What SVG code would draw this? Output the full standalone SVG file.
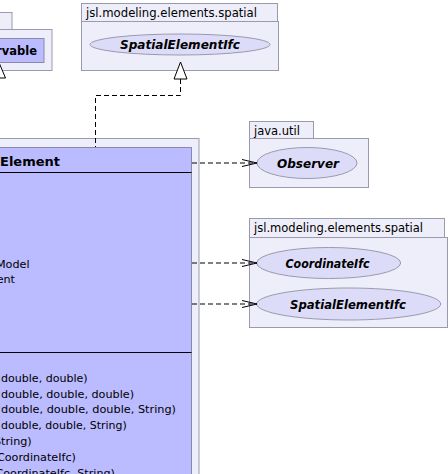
<svg xmlns="http://www.w3.org/2000/svg" width="448" height="474" viewBox="0 0 448 474">
<style>
.pkg{fill:#eeeefa;stroke:#9a9aae;stroke-width:1}
.cls{fill:#bbbbff;stroke:#8a8aa8;stroke-width:1}
.ell{fill:#dcdcf8;stroke:#9a9aae;stroke-width:1}
.sep{stroke:#000;stroke-width:1}
.lbl{font-family:"DejaVu Sans",sans-serif;font-size:11.5px;fill:#000}
.txt{font-family:"DejaVu Sans",sans-serif;font-size:11.2px;fill:#000}
.ttl{font-family:"DejaVu Sans",sans-serif;font-size:13px;font-weight:bold;fill:#000}
.ifc{font-family:"DejaVu Sans",sans-serif;font-size:12px;font-weight:bold;font-style:italic;fill:#000;text-anchor:middle}
.dep{fill:none;stroke:#000;stroke-width:1;stroke-dasharray:5,3}
.tri{fill:#fff;stroke:#000;stroke-width:1}
</style>
<defs>
<marker id="open" markerUnits="userSpaceOnUse" markerWidth="17" markerHeight="8" refX="15" refY="3.5" orient="auto" overflow="visible">
<path d="M0,0 L15,3.5 L0,7" fill="none" stroke="#000" stroke-width="1"/>
</marker>
</defs>

<g id="pkg-observable">
<rect class="pkg" x="-20" y="12.5" width="32" height="17"/>
<rect class="pkg" x="-100" y="29.5" width="152" height="41"/>
<rect class="cls" x="-60" y="38.5" width="104" height="24"/>
<text class="ttl" x="37" y="55" text-anchor="end" style="font-size:11.5px">rvable</text>
</g>

<g id="pkg-spatial-top">
<rect class="pkg" x="81.5" y="3.5" width="196" height="18"/>
<rect class="pkg" x="81.5" y="21.5" width="197" height="49"/>
<text class="lbl" x="86" y="16.5" textLength="171" lengthAdjust="spacingAndGlyphs">jsl.modeling.elements.spatial</text>
<g id="SpatialElementIfc-top">
<ellipse class="ell" cx="180" cy="44.5" rx="90" ry="10.5"/>
<text class="ifc" x="180" y="49" textLength="120" lengthAdjust="spacingAndGlyphs">SpatialElementIfc</text>
</g>
</g>

<g id="pkg-main">
<rect class="pkg" x="-100" y="138.5" width="299" height="400"/>
<g id="Element">
<rect class="cls" x="-108" y="147.5" width="299.5" height="400"/>
<line class="sep" x1="-108" y1="172.5" x2="191.5" y2="172.5"/>
<line class="sep" x1="-108" y1="352.5" x2="191.5" y2="352.5"/>
<text class="ttl" x="60" y="166" text-anchor="end">Element</text>
<text class="txt" x="29.5" y="267.5" text-anchor="end">Model</text>
<text class="txt" x="15" y="283" text-anchor="end">ent</text>
<text class="txt" x="1" y="382" textLength="86.7" lengthAdjust="spacingAndGlyphs">double, double)</text>
<text class="txt" x="1" y="397.7" textLength="133" lengthAdjust="spacingAndGlyphs">double, double, double)</text>
<text class="txt" x="1" y="413.4" textLength="175" lengthAdjust="spacingAndGlyphs">double, double, double, String)</text>
<text class="txt" x="1" y="429.1" textLength="125.7" lengthAdjust="spacingAndGlyphs">double, double, String)</text>
<text class="txt" x="31.7" y="444.8" text-anchor="end">String)</text>
<text class="txt" x="76" y="460.5" text-anchor="end">CoordinateIfc)</text>
<text class="txt" x="115" y="477" text-anchor="end">CoordinateIfc, String)</text>
</g>
</g>

<g id="pkg-java-util">
<rect class="pkg" x="249.5" y="121.5" width="64" height="17"/>
<rect class="pkg" x="249.5" y="138.5" width="119" height="49"/>
<text class="lbl" x="254" y="134.5" textLength="46" lengthAdjust="spacingAndGlyphs">java.util</text>
<g id="Observer">
<ellipse class="ell" cx="307" cy="163" rx="50" ry="15.5"/>
<text class="ifc" x="308" y="167.5" textLength="62" lengthAdjust="spacingAndGlyphs">Observer</text>
</g>
</g>

<g id="pkg-spatial">
<rect class="pkg" x="249.5" y="218.5" width="195" height="19"/>
<rect class="pkg" x="249.5" y="237.5" width="198" height="90"/>
<text class="lbl" x="254" y="231.5" textLength="169" lengthAdjust="spacingAndGlyphs">jsl.modeling.elements.spatial</text>
<g id="CoordinateIfc">
<ellipse class="ell" cx="328.7" cy="263" rx="72" ry="15.5"/>
<text class="ifc" x="327.5" y="267.5" textLength="84" lengthAdjust="spacingAndGlyphs">CoordinateIfc</text>
</g>
<g id="SpatialElementIfc">
<ellipse class="ell" cx="348.7" cy="304" rx="92" ry="16"/>
<text class="ifc" x="348" y="308.5" textLength="116" lengthAdjust="spacingAndGlyphs">SpatialElementIfc</text>
</g>
</g>

<g id="connectors">
<polygon class="tri" points="-1,62.5 -7.5,78 5.5,78"/>
<polygon class="tri" points="180.5,62 174,79 187,79"/>
<path class="dep" d="M180.5,79 V95.5 H95.5 V147"/>
<path class="dep" d="M192,163 H257" marker-end="url(#open)"/>
<path class="dep" d="M192,263 H257" marker-end="url(#open)"/>
<path class="dep" d="M192,304 H257" marker-end="url(#open)"/>
</g>
</svg>
